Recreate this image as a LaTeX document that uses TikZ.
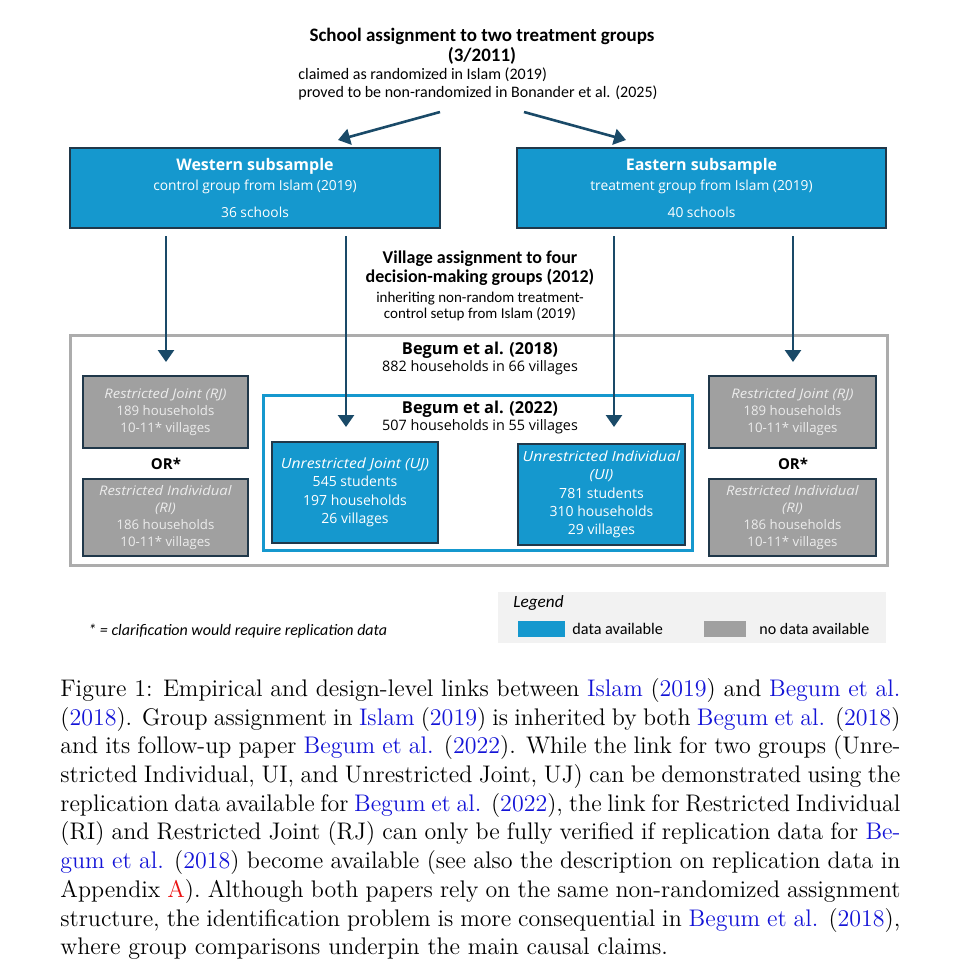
\documentclass[tikz,border=0pt]{standalone}
\usepackage{fontspec}
\usepackage{graphicx}
\usetikzlibrary{arrows.meta,calc}
\newfontfamily\carl{Carlito}
\newfontfamily\osans{Open Sans}
\definecolor{cblue}{RGB}{21,152,206}
\definecolor{cdark}{RGB}{32,56,74}
\definecolor{carrow}{RGB}{26,74,104}
\definecolor{cgray}{RGB}{160,160,160}
\definecolor{cgtext}{RGB}{236,236,236}
\definecolor{couter}{RGB}{172,172,172}
\definecolor{clegend}{RGB}{242,242,242}
\definecolor{clink}{RGB}{20,20,215}
\definecolor{cred}{RGB}{235,20,20}
\newcommand{\lk}[1]{\textcolor{clink}{#1}}
\newcommand{\wit}[1]{\scalebox{1.12}[1]{\textit{#1}}}
\begin{document}
\begin{tikzpicture}[x=0.5pt,y=-0.5pt,
  bluebox/.style={fill=cblue, draw=cdark, line width=1pt, text=white, align=center, inner sep=0pt},
  graybox/.style={fill=cgray, draw=cdark, line width=0.9pt, text=cgtext, align=center, inner sep=0pt,
     font=\osans\fontsize{6.6}{8.5}\selectfont},
  arr/.style={draw=carrow, line width=1.3pt, -{Triangle[width=8pt,length=6pt]}},
  plain/.style={inner sep=0pt, align=center}]
\useasboundingbox[fill=white] (0,0) rectangle (975,965);

% title
\node[plain, font=\carl\bfseries\fontsize{9.5}{10}\selectfont] (title) at (482,46) {School assignment to two treatment groups\\(3/2011)};
\node[plain, align=left, anchor=west, font=\carl\fontsize{8}{9}\selectfont] (claim) at (298,84) {claimed as randomized in Islam (2019)\\proved to be non-randomized in Bonander et al. (2025)};

% top boxes
\node[bluebox, minimum width=185pt, minimum height=40pt, font=\osans\fontsize{6.9}{10}\selectfont] (west) at (255,188)
  {{\bfseries\fontsize{8}{10}\selectfont Western subsample}\\
   control group from Islam (2019)\\[3.5pt]
   36 schools};
\node[bluebox, minimum width=184.5pt, minimum height=40pt, font=\osans\fontsize{6.9}{10}\selectfont] (east) at (701.5,188)
  {{\bfseries\fontsize{8}{10}\selectfont Eastern subsample}\\
   treatment group from Islam (2019)\\[3.5pt]
   40 schools};

\coordinate (t1) at (440,112); \coordinate (t1e) at (338,140);
\coordinate (t2) at (524,112); \coordinate (t2e) at (626,140);
\draw[arr] (t1) -- (t1e);
\draw[arr] (t2) -- (t2e);

% village text
\node[plain, font=\carl\fontsize{7.5}{9.75}\selectfont] (village) at (480,285.5)
  {{\bfseries\fontsize{9}{10}\selectfont Village assignment to four}\\
   {\bfseries\fontsize{9}{10}\selectfont decision-making groups (2012)}\\
   inheriting non-random treatment-\\[-1.75pt]
   control setup from Islam (2019)};

% outer and inner frames
\node[draw=couter, line width=1.5pt, minimum width=408.5pt, minimum height=115pt, inner sep=0pt] (b18) at (478.5,450) {};
\node[plain, font=\osans\fontsize{7.2}{8.5}\selectfont] (b18lab) at (480,358.5)
  {{\bfseries\fontsize{8.2}{8.5}\selectfont Begum et al. (2018)}\\
   882 households in 66 villages};
\node[draw=cblue, line width=1.5pt, minimum width=214.5pt, minimum height=77.5pt, inner sep=0pt] (b22) at (477.5,472.5) {};
\node[plain, font=\osans\fontsize{7.2}{8.5}\selectfont] (b22lab) at (480,417.5)
  {{\bfseries\fontsize{8.2}{8.5}\selectfont Begum et al. (2022)}\\
   507 households in 55 villages};

% inner blue boxes
\node[bluebox, minimum width=83pt, minimum height=50.5pt, font=\osans\fontsize{7}{9.25}\selectfont] (uj) at (355,492.5)
  {\wit{Unrestricted Joint (UJ)}\\545 students\\197 households\\26 villages};
\node[bluebox, minimum width=83.5pt, minimum height=50.5pt, font=\osans\fontsize{7}{9.1}\selectfont] (ui) at (601.5,494.5)
  {\wit{Unrestricted Individual}\\\wit{(UI)}\\781 students\\310 households\\29 villages};

% gray boxes
\node[graybox, minimum width=82.5pt, minimum height=36pt] (lrj) at (165.5,412)
  {\wit{Restricted Joint (RJ)}\\189 households\\10-11* villages};
\node[plain, font=\osans\bfseries\fontsize{7.5}{9}\selectfont] (lor) at (166,464) {OR*};
\node[graybox, minimum width=82.5pt, minimum height=38.5pt] (lri) at (165.5,517.5)
  {\wit{Restricted Individual}\\\wit{(RI)}\\186 households\\10-11* villages};
\node[graybox, minimum width=83.5pt, minimum height=36pt] (rrj) at (792.5,412)
  {\wit{Restricted Joint (RJ)}\\189 households\\10-11* villages};
\node[plain, font=\osans\bfseries\fontsize{7.5}{9}\selectfont] (ror) at (793,464) {OR*};
\node[graybox, minimum width=83.5pt, minimum height=38.5pt] (rri) at (792.5,517.5)
  {\wit{Restricted Individual}\\\wit{(RI)}\\186 households\\10-11* villages};

% vertical arrows
\coordinate (v1s) at (166,236); \coordinate (v1e) at (166,362);
\coordinate (v2s) at (346,236); \coordinate (v2e) at (346,427);
\coordinate (v3s) at (614,236); \coordinate (v3e) at (614,427);
\coordinate (v4s) at (793,236); \coordinate (v4e) at (793,362);
\draw[arr] (v1s) -- (v1e);
\draw[arr] (v2s) -- (v2e);
\draw[arr] (v3s) -- (v3e);
\draw[arr] (v4s) -- (v4e);

% footnote and legend
\node[plain, anchor=west, font=\carl\itshape\fontsize{8}{9}\selectfont] (foot) at (88,631) {* = clarification would require replication data};
\node[fill=clegend, minimum width=194pt, minimum height=25.5pt, inner sep=0pt] (legend) at (692,617.5) {};
\node[plain, anchor=west, font=\carl\itshape\fontsize{8.6}{9}\selectfont] (legtitle) at (513,603) {Legend};
\node[fill=cblue, minimum width=23.5pt, minimum height=8pt, inner sep=0pt] (sw1) at (541.5,629) {};
\node[plain, anchor=west, font=\carl\fontsize{8.1}{9}\selectfont] (sw1t) at (572,629) {data available};
\node[fill=cgray, minimum width=21pt, minimum height=8pt, inner sep=0pt] (sw2) at (725,629) {};
\node[plain, anchor=west, font=\carl\fontsize{8}{9}\selectfont] (sw2t) at (759,629) {no data available};

% caption
\node[inner sep=0pt, anchor=north west] (caption) at (60,678) {\parbox{420pt}{\fontsize{12}{14.35}\selectfont
\hbox to 420pt{Figure 1: Empirical and design-level links between \lk{Islam} (\lk{2019}) and \lk{Begum et al.}}
\hbox to 420pt{(\lk{2018}). Group assignment in \lk{Islam} (\lk{2019}) is inherited by both \lk{Begum et al.} (\lk{2018})}
\hbox to 420pt{and its follow-up paper \lk{Begum et al.} (\lk{2022}). While the link for two groups (Unre-}
\hbox to 420pt{stricted Individual, UI, and Unrestricted Joint, UJ) can be demonstrated using the}
\hbox to 420pt{replication data available for \lk{Begum et al.} (\lk{2022}), the link for Restricted Individual}
\hbox to 420pt{(RI) and Restricted Joint (RJ) can only be fully verified if replication data for \lk{Be-}}
\hbox to 420pt{\lk{gum et al.} (\lk{2018}) become available (see also the description on replication data in}
\hbox to 420pt{Appendix \textcolor{cred}{A}). Although both papers rely on the same non-randomized assignment}
\hbox to 420pt{structure, the identification problem is more consequential in \lk{Begum et al.} (\lk{2018}),}
\hbox{where group comparisons underpin the main causal claims.}}};
\end{tikzpicture}
\end{document}
